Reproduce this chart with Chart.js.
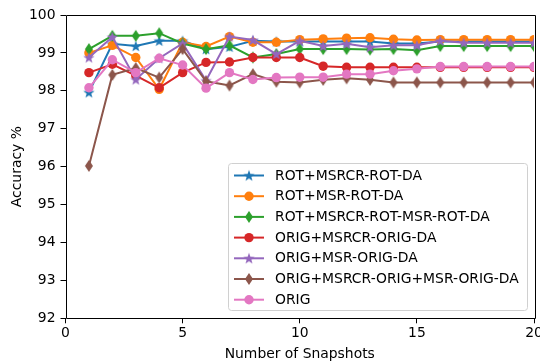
<!DOCTYPE html>
<html>
<head>
<meta charset="utf-8">
<script src="https://cdn.jsdelivr.net/npm/chart.js@4/dist/chart.umd.min.js"></script>
<style>
  html, body { margin: 0; padding: 0; background: #fff; }
  #wrap { width: 540px; height: 363px; }
</style>
</head>
<body>
<div id="wrap"><canvas id="accChart"></canvas></div>
<script>
const snapshots = [1, 2, 3, 4, 5, 6, 7, 8, 9, 10, 11, 12, 13, 14, 15, 16, 17, 18, 19, 20];

const seriesNames = [
  "ROT+MSRCR-ROT-DA",
  "ROT+MSR-ROT-DA",
  "ROT+MSRCR-ROT-MSR-ROT-DA",
  "ORIG+MSRCR-ORIG-DA",
  "ORIG+MSR-ORIG-DA",
  "ORIG+MSRCR-ORIG+MSR-ORIG-DA",
  "ORIG"
];

const rotMsrcr = [97.96, 99.24, 99.18, 99.32, 99.32, 99.1, 99.16, 99.32, 99.3, 99.3, 99.3, 99.3, 99.3, 99.25, 99.25, 99.3, 99.3, 99.3, 99.3, 99.3];
const rotMsr = [99.0, 99.2, 98.88, 98.04, 99.28, 99.17, 99.43, 99.28, 99.28, 99.35, 99.37, 99.39, 99.4, 99.36, 99.34, 99.35, 99.35, 99.35, 99.35, 99.35];
const rotMsrcrMsr = [99.1, 99.45, 99.45, 99.52, 99.25, 99.1, 99.2, 98.88, 98.97, 99.1, 99.1, 99.1, 99.09, 99.1, 99.07, 99.18, 99.18, 99.18, 99.18, 99.18];
const origMsrcr = [98.48, 98.7, 98.4, 98.08, 98.48, 98.75, 98.76, 98.88, 98.88, 98.88, 98.65, 98.62, 98.62, 98.62, 98.62, 98.62, 98.62, 98.62, 98.62, 98.62];
const origMsr = [98.88, 99.42, 98.3, 98.86, 99.25, 98.27, 99.43, 99.34, 98.97, 99.32, 99.18, 99.24, 99.15, 99.2, 99.2, 99.32, 99.27, 99.27, 99.27, 99.27];
const origMsrcrMsr = [96.02, 98.42, 98.6, 98.35, 99.1, 98.25, 98.14, 98.44, 98.24, 98.22, 98.29, 98.33, 98.29, 98.22, 98.22, 98.22, 98.22, 98.22, 98.22, 98.22];
const origOnly = [98.08, 98.82, 98.48, 98.86, 98.68, 98.07, 98.48, 98.3, 98.35, 98.36, 98.36, 98.44, 98.44, 98.53, 98.58, 98.64, 98.64, 98.64, 98.64, 98.64];

const yTicks = [92, 93, 94, 95, 96, 97, 98, 99, 100];
const xTicks = [0, 5, 10, 15, 20];

const colors = ["#1f77b4", "#ff7f0e", "#2ca02c", "#d62728", "#9467bd", "#8c564b", "#e377c2"];
const FONT = "'DejaVu Sans', sans-serif";
const FS = 13.9;
const R = 4.7;

// filled five point star marker
function starMarker(color, r) {
  const c = document.createElement("canvas");
  const s = Math.ceil(r * 2 + 2);
  c.width = s; c.height = s;
  const g = c.getContext("2d");
  const cx = s / 2, cy = s / 2 + r * 0.08;
  g.beginPath();
  for (let i = 0; i < 10; i++) {
    const rad = i % 2 === 0 ? r : r * 0.4;
    const a = -Math.PI / 2 + i * Math.PI / 5;
    const px = cx + rad * Math.cos(a), py = cy + rad * Math.sin(a);
    if (i === 0) g.moveTo(px, py); else g.lineTo(px, py);
  }
  g.closePath();
  g.fillStyle = color;
  g.fill();
  return c;
}

// thin diamond marker
function diamondMarker(color, h) {
  const c = document.createElement("canvas");
  const w = Math.ceil(h * 0.62) + 2;
  const hh = Math.ceil(h) + 2;
  c.width = w; c.height = hh;
  const g = c.getContext("2d");
  g.beginPath();
  g.moveTo(w / 2, 1);
  g.lineTo(w - 1, hh / 2);
  g.lineTo(w / 2, hh - 1);
  g.lineTo(1, hh / 2);
  g.closePath();
  g.fillStyle = color;
  g.fill();
  return c;
}

const markers = [
  starMarker(colors[0], 6),
  "circle",
  diamondMarker(colors[2], 12),
  "circle",
  starMarker(colors[4], 6),
  diamondMarker(colors[5], 12),
  "circle"
];

const allValues = [rotMsrcr, rotMsr, rotMsrcrMsr, origMsrcr, origMsr, origMsrcrMsr, origOnly];

const datasets = allValues.map((vals, i) => ({
  label: seriesNames[i],
  data: snapshots.map((x, j) => ({ x: x, y: vals[j] })),
  borderColor: colors[i],
  backgroundColor: colors[i],
  pointBackgroundColor: colors[i],
  pointBorderColor: colors[i],
  pointBorderWidth: 0,
  borderWidth: 2,
  pointStyle: markers[i],
  pointRadius: R,
  pointHoverRadius: R,
  tension: 0,
  order: 6 - i,
  clip: 0
}));

// box around the plot area
const frame = {
  id: "frame",
  afterDatasetsDraw(chart) {
    const { ctx, chartArea: a } = chart;
    ctx.save();
    ctx.strokeStyle = "#000";
    ctx.lineWidth = 1;
    ctx.beginPath();
    ctx.rect(Math.round(a.left) + 0.5, Math.round(a.top) + 0.5,
      Math.round(a.right - a.left), Math.round(a.bottom - a.top));
    ctx.stroke();
    ctx.restore();
  }
};

// legend box in the lower right of the plot
const innerLegend = {
  id: "innerLegend",
  afterDraw(chart) {
    const ctx = chart.ctx;
    const x0 = 228.5, y0 = 163.5, w = 299, h = 147, rowH = 20.7;
    ctx.save();
    ctx.beginPath();
    ctx.roundRect(x0, y0, w, h, 3);
    ctx.fillStyle = "rgba(255,255,255,0.8)";
    ctx.fill();
    ctx.strokeStyle = "#d0d0d0";
    ctx.lineWidth = 1;
    ctx.stroke();
    ctx.font = FS + "px " + FONT;
    ctx.textBaseline = "middle";
    chart.data.datasets.forEach((ds, i) => {
      const cy = y0 + 12 + i * rowH;
      ctx.strokeStyle = ds.borderColor;
      ctx.lineWidth = 2;
      ctx.beginPath();
      ctx.moveTo(234, cy);
      ctx.lineTo(264, cy);
      ctx.stroke();
      if (ds.pointStyle === "circle") {
        ctx.fillStyle = ds.backgroundColor;
        ctx.beginPath();
        ctx.arc(249, cy, R, 0, Math.PI * 2);
        ctx.fill();
      } else {
        Chart.helpers.drawPoint(ctx, { pointStyle: ds.pointStyle, radius: R, rotation: 0, borderWidth: 0 }, 249, cy);
      }
      ctx.fillStyle = "#000";
      ctx.fillText(ds.label, 275, cy + 0.5);
    });
    ctx.restore();
  }
};

new Chart(document.getElementById("accChart"), {
  type: "line",
  data: { datasets },
  options: {
    responsive: true,
    maintainAspectRatio: false,
    animation: false,
    events: [],
    layout: { autoPadding: false, padding: { top: 15, right: 6, left: 0, bottom: 0 } },
    plugins: {
      legend: { display: false },
      tooltip: { enabled: false }
    },
    scales: {
      x: {
        type: "linear",
        min: 0,
        max: 20,
        afterBuildTicks: s => { s.ticks = xTicks.map(v => ({ value: v })); },
        afterFit: s => { s.height = 44.7; s.paddingLeft = 0; s.paddingRight = 0; },
        grid: { drawOnChartArea: false, tickLength: 5, tickColor: "#000" },
        border: { display: false },
        ticks: { color: "#000", padding: 2, maxRotation: 0, font: { family: FONT, size: FS } },
        title: { display: true, text: "Number of Snapshots", color: "#000", padding: { top: 0, bottom: 0 }, font: { family: FONT, size: FS } }
      },
      y: {
        min: 92,
        max: 100,
        afterBuildTicks: s => { s.ticks = yTicks.map(v => ({ value: v })); },
        afterFit: s => { s.width = 65.5; s.paddingTop = 0; s.paddingBottom = 0; },
        grid: { drawOnChartArea: false, tickLength: 5, tickColor: "#000" },
        border: { display: false },
        ticks: { color: "#000", padding: 5, font: { family: FONT, size: FS } },
        title: { display: true, text: "Accuracy %", color: "#000", padding: { top: 9, bottom: 0 }, font: { family: FONT, size: FS } }
      }
    }
  },
  plugins: [frame, innerLegend]
});
</script>
</body>
</html>
